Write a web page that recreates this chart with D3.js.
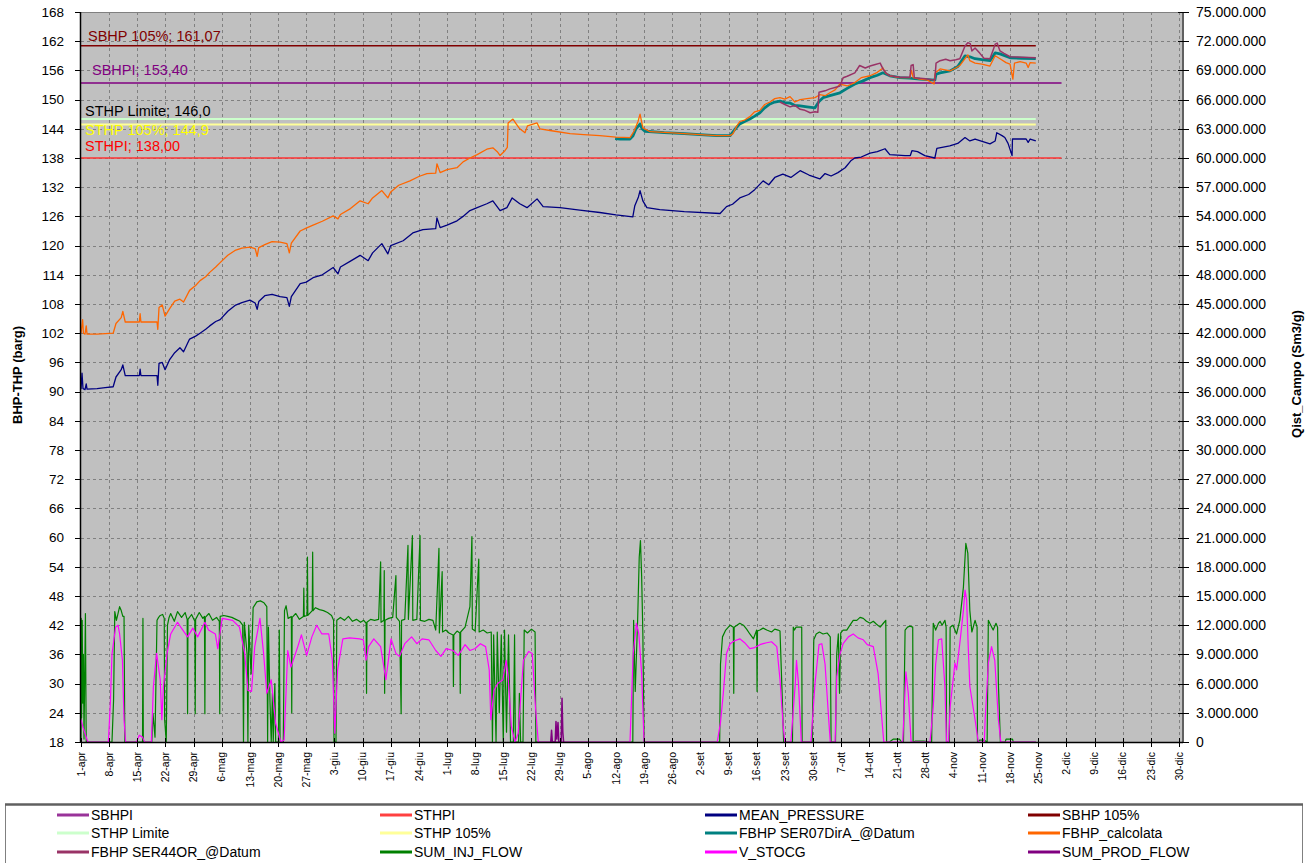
<!DOCTYPE html>
<html lang="it">
<head>
<meta charset="UTF-8">
<title>BHP-THP</title>
<script src="https://cdn.jsdelivr.net/npm/d3@7"></script>
<style>
  body { margin: 0; background: #fff; }
  svg text { font-family: "Liberation Sans", Arial, sans-serif; }
</style>
</head>
<body>
<svg id="svg"></svg>
<script>

var WIDTH = 1308, HEIGHT = 863;
var LEFT = 81, RIGHT = 1183, TOP = 12, BOTTOM = 742;

var START = new Date(2007, 3, 1);
var END = new Date(2007, 11, 31);

// tick labels
var monthNames = ["gen","feb","mar","apr","mag","giu","lug","ago","set","ott","nov","dic"];
var leftTicks = [18,24,30,36,42,48,54,60,66,72,78,84,90,96,102,108,114,120,126,132,138,144,150,156,162,168];
var rightTicksM = [0,3,6,9,12,15,18,21,24,27,30,33,36,39,42,45,48,51,54,57,60,63,66,69,72,75];

// threshold lines (barg) and the day (from 1-apr) where each one stops
var thresholdNames = ["SBHP 105%", "SBHPI", "STHP Limite", "STHP 105%", "STHPI"];
var thresholdValues = [161.07, 153.40, 146.0, 144.9, 138.00];
var thresholdLabels = ["SBHP 105%; 161,07", "SBHPI; 153,40", "STHP Limite; 146,0", "STHP 105%; 144,9", "STHPI; 138,00"];
var thresholdEndDay = [237.4, 243.8, 237.4, 237.4, 243.8];

// series: [day from 1-apr, value]; pressures in barg
var meanPressure = [[0,90.5],[0.25,93.8],[0.5,90.6],[1,90.4],[1.3,91.6],[1.5,90.5],[4,90.6],[6,90.8],[8,91],[8.7,93],[10,94.5],[10.4,95.5],[11,93.3],[14.5,93.3],[14.7,94.6],[14.9,93.3],[18.9,93.3],[19.1,91.3],[19.4,95.8],[20.2,96],[20.9,94.5],[22,96.5],[23.3,98],[24.6,99],[25.5,98.2],[27,100.8],[28.5,101.4],[29.6,102],[31,102.8],[32,103.5],[33.5,104.4],[34.6,104.8],[36.5,106.5],[38.3,107.7],[40,108.3],[42,108.8],[43.3,108.2],[43.8,106.9],[44.2,108.5],[45.7,109.7],[47.5,110],[49.5,109.5],[51.2,109.3],[51.8,107.5],[52.3,109.5],[54.5,112.2],[56,112.5],[57.7,113.4],[60,114],[62.7,115.5],[63.9,114.2],[64.5,115.6],[67,116.8],[69.4,118],[71.4,116.9],[72.5,118.5],[74.8,120.4],[76.3,118.3],[77,120],[80.1,121],[82.5,122.6],[85,123.3],[88.2,123.5],[88.5,125.7],[89.3,123.7],[91,124.2],[93.5,125.1],[95,126],[96.7,127.2],[98.5,127.8],[100.9,128.6],[102.4,129.2],[104.2,127.2],[105.9,127.8],[107.2,129.8],[109.1,128.6],[110.9,127.8],[113.4,129.6],[114.9,128],[117,127.9],[119.1,127.8],[124,127.3],[129,126.8],[133,126.3],[137.2,125.9],[137.7,128.2],[138.6,130],[139,131.3],[139.7,129.2],[140.7,127.8],[143.9,127.4],[150,127],[158.9,126.6],[160.5,128],[162,128.5],[163.8,129.8],[166,130.5],[167.5,131.5],[169.6,133.3],[171,132.5],[172.5,134],[174.5,134.7],[176.5,134],[178.8,135.4],[181,134.5],[183.7,133.7],[185,134.8],[186.5,134.3],[188.2,135],[190,136],[191.5,137.5],[192.4,138],[194,138.2],[196.2,139],[198,139.3],[199.9,139.9],[201.1,138.7],[204.9,138.5],[206.2,138.5],[206.6,139.5],[208,139.3],[209.8,138.5],[212.3,138],[212.8,140],[216,140.5],[218,141],[219.8,142.2],[221,141.5],[222.3,141.9],[226,140.9],[227.3,141.5],[227.7,143.2],[229,142.6],[229.7,142.2],[230.5,141],[231.5,138.5],[231.6,141.9],[235,141.9],[235.5,141.2],[236,141.9],[237.4,141.5]];

var fbhpCalcolata = [[0,102],[0.4,104.8],[0.6,102],[1,101.8],[1.3,103.5],[1.5,101.8],[4,101.8],[8,102],[8.7,104],[10,105.2],[10.4,106.5],[11,104.3],[14.5,104.3],[14.7,106],[14.9,104.3],[18.9,104.3],[19.1,102.8],[19.4,107.3],[20.2,107.8],[20.9,105.5],[22,107],[23.3,108.6],[24.6,109],[25.5,108.4],[27,110.8],[28.5,111.8],[29.6,112.8],[31,113.6],[32,114.5],[33.5,115.6],[34.6,116.5],[36.5,118],[38.3,119],[40,119.5],[42,119.7],[43.3,119.4],[43.8,117.8],[44.2,119.6],[45.7,120.2],[47.5,120.8],[49.5,120.7],[51.2,120.4],[51.8,118.5],[52.3,120.5],[54.5,123],[56,123.6],[57.7,124.2],[60,125],[62.7,126.1],[63.9,125.5],[64.5,126.4],[67,127.6],[69.4,129.2],[71.4,128.6],[72.5,129.8],[74.8,131.3],[76.3,129.8],[77,131],[79,132.4],[81.8,133.3],[84,134.2],[86,134.8],[88.2,134.9],[88.5,136.8],[89.3,135],[91,135.6],[93.5,136],[95,137.2],[96.7,138],[98.5,138.7],[100.9,139.8],[102.4,140.1],[103.5,139.3],[104.2,138.5],[105.4,139.5],[106,140.2],[106.2,145.2],[107.4,146],[108.2,145],[109.1,144],[110.4,143.2],[111,144.6],[113.4,145.2],[114.1,144],[117,143.6],[121.6,143],[125,142.8],[129,142.6],[133,142.3],[136.5,142.2],[137.5,143.5],[138.5,145.5],[139,147],[139.7,144.2],[141.5,143.4],[146,143.2],[150,143],[153.9,142.8],[158,142.6],[161.4,142.6],[162.1,143],[163,144.5],[163.8,145.5],[165,145.8],[166.3,146.5],[167.5,147.5],[168.8,147.8],[170,149],[171.3,149.5],[172.5,150.2],[173.8,150.4],[175,150.1],[176.3,150.6],[177.5,149.5],[178.8,150],[180.5,150.2],[182.5,150.4],[183.7,151],[185,150.8],[186.2,151.4],[187.5,152],[188.7,153.2],[190.5,152.8],[192.4,153.5],[194,154.5],[196.2,154.9],[198,155.6],[199.4,156.5],[200,155.5],[201.1,154.9],[203.6,154.5],[206.1,154.5],[206.5,156],[206.9,154.5],[208.6,154.2],[210.5,154],[212.1,153.2],[212.4,155.5],[213.6,156.3],[216.1,155.9],[217.5,156.5],[218.5,157],[219.8,158.4],[220.5,159.2],[221,158],[222.3,157.5],[224,157.3],[226,156.9],[227.3,159],[228.5,158.4],[230,157.6],[231,157.3],[231.4,155.5],[231.7,154.2],[232.1,157.5],[233.5,157.8],[235,157.5],[235.5,156.6],[236,157.6],[237.4,157.5]];

var fbhpSer07 = [[132.8,142],[134,141.9],[136.5,141.9],[137.2,142.5],[138,144],[139,145],[139.5,144],[140.2,143.5],[145,143.2],[150,143],[153.9,142.8],[158,142.6],[161.4,142.6],[162.5,143.8],[163.8,145],[165,145.5],[166.3,146],[167.5,146.6],[168.8,147.3],[170,148.3],[171.3,149.1],[172.5,149.5],[173.8,149.7],[175,149.4],[176.3,149.3],[177.5,148.8],[178.8,148.7],[180.5,148.5],[182.5,148.3],[183.5,149.6],[184.5,150.4],[186.2,150.8],[188.7,151.4],[190.5,152.3],[192.4,153.2],[194.3,153.8],[196.2,154.5],[198,155],[199.4,155.5],[201.1,154.9],[203.6,154.5],[206,154.4],[208.6,154.2],[210.5,154.1],[212.3,154],[212.6,155.2],[213.6,155.5],[216.1,155.9],[218,156.8],[219.8,159],[221,158.8],[222.3,158.4],[224,158.2],[226,158],[227.3,159.6],[228.5,159.4],[231,158.6],[234,158.5],[237.4,158.4]];

var fbhpSer44 = [[173.8,149.5],[175,149],[176.3,148.5],[177.5,148.8],[178.8,148],[180,147.8],[181.3,147.3],[182.5,147.5],[183.2,147.4],[183.5,151.5],[185,151.8],[186.2,152.2],[187.5,152.5],[188.7,152.8],[189.5,154.5],[190.5,154.8],[192.4,155.5],[193.6,157],[195,156.5],[196.2,156.9],[197.5,157.2],[198.7,157.5],[199.4,156.3],[200.3,155.3],[201.1,154.9],[203.6,154.6],[206.1,154.6],[206.4,157],[206.9,157.2],[207.2,154.5],[210,154.3],[212.3,154],[212.6,157.5],[213.6,158],[215,158.3],[216.1,158],[217.5,158.2],[218.5,158.4],[219.3,160],[219.8,161],[220.5,161.7],[221.1,161.5],[221.5,160],[222.3,160.6],[223.5,159.5],[224.5,158.5],[226,158.4],[226.8,160.2],[227.3,161.4],[227.8,161.6],[228.5,160],[229.5,159.5],[231,158.8],[234,158.7],[237.4,158.6]];

// flows: [day from 1-apr, millions of Sm3/g]
var sumInjFlow = [[0,0],[0.05,12.7],[0.15,2.5],[0.3,12.5],[0.45,4],[0.6,9],[0.75,0.3],[1.1,13.2],[1.3,0],[7.7,0],[8.1,4.3],[8.4,13.4],[8.8,12.5],[9.2,13.2],[9.6,13.9],[10,13.5],[10.4,12.9],[10.7,12.9],[10.9,0],[15.3,0],[15.4,12.7],[15.5,0],[17.6,0],[17.9,2.9],[18.4,0.5],[18.9,12.5],[19.3,12.8],[19.7,13],[20.3,13.1],[20.7,12.7],[20.8,2.3],[21.2,0],[21.5,12],[21.9,12.8],[22.3,13.2],[23.2,12.4],[24,13.4],[25,12.8],[25.9,13.3],[26.4,12.6],[26.5,2.9],[26.6,12.6],[27.5,13.1],[28.3,12.4],[28.4,2.9],[28.5,12.6],[29.4,13.3],[30.3,12.7],[30.7,12.9],[30.8,2.9],[30.9,12.8],[31.8,13.2],[32.7,12.5],[33.7,12.8],[34.4,12.4],[34.5,2.9],[34.6,12.9],[35.5,13],[36.5,12.9],[37.5,12.8],[38.5,12.6],[39.5,12.4],[40.2,12],[40.4,0],[40.6,12.3],[41.3,9],[41.5,0],[41.7,12],[42.3,7],[42.8,13.8],[43.7,14.4],[44.6,14.5],[45.5,14.3],[46.2,13.9],[46.4,0],[46.6,11.8],[47,4],[47.3,0],[47.6,5],[47.8,0],[48.2,6],[48.4,0],[49.1,0],[49.3,11.5],[49.5,0],[50.3,0],[50.6,13.5],[51,14],[51.5,12.7],[52.3,12.9],[52.4,3],[52.5,12.8],[53.4,13.2],[54.3,12.6],[55.3,12.9],[55.4,15.8],[55.5,12.9],[56.2,13],[56.3,19],[56.4,13],[57.5,13.5],[57.6,19.5],[57.7,13.5],[58.3,13.8],[59.3,13.6],[60.3,13.5],[61.3,13.3],[62.3,13],[62.8,12.5],[62.9,0],[63.4,0],[63.6,12.5],[64.5,12.8],[65.5,12.5],[66.5,12.9],[67.5,12.4],[68.5,12.6],[69.5,12.3],[70.3,12.5],[70.9,12.2],[71,5],[71.1,12.3],[72,12.6],[73,12.5],[74,12.6],[74.5,18.5],[74.6,12.3],[75.3,12.5],[75.4,17.6],[75.5,5],[75.6,12.5],[76.5,12.7],[77.5,12.8],[78.3,17.1],[78.4,12.8],[79.2,12.4],[79.6,2.9],[79.7,12.5],[80.5,12.6],[81.3,20.2],[81.4,12.6],[82.4,21.2],[82.5,12.5],[83.5,12.6],[84.3,21.2],[84.4,12.5],[85.5,12.4],[86.5,12.6],[87.5,12.5],[88.2,11.5],[89,19.9],[89.1,11.2],[89.8,17.5],[89.9,11.3],[90.7,11.5],[91.5,11.2],[92.5,11],[92.6,5.7],[92.7,11],[93.5,11.4],[94.2,11.2],[94.3,5],[94.4,11.3],[95.5,11.8],[96.7,13.9],[97.2,21.1],[97.3,11.6],[98,11.4],[98.9,18.8],[99,11.3],[100,11.5],[101,11.2],[102,11.3],[102.3,0],[102.6,11],[103.2,0],[103.5,11.3],[104,3],[104.5,11],[105,0],[105.3,11.5],[105.8,1],[106.3,11],[106.8,0],[107.5,0],[107.8,11],[108,0],[108.8,0],[109,5],[109.3,0],[109.9,0],[110.2,11.5],[111,11.2],[112,11.6],[112.9,11.3],[113.1,0],[137.2,0],[137.4,12.5],[137.8,5.2],[138.4,12.5],[138.8,19],[139.1,20.7],[139.4,17],[139.7,11.1],[140,0],[158.8,0],[159,8],[159.5,10.8],[160.3,11.5],[161.4,12],[162.2,11.8],[162.3,5],[162.4,11.8],[163.8,12.2],[164.7,12],[165.5,11.6],[166.3,11.1],[167.2,10.6],[168,11.5],[168.1,5.2],[168.2,11.4],[168.8,11.5],[169.6,11.7],[170.5,11.5],[171.7,11.3],[172.5,11.6],[173.3,11.5],[173.8,11.4],[174.3,5.3],[174.7,0],[176.9,0],[177.1,11.8],[177.4,11.5],[177.8,11.8],[179.2,11.8],[179.3,0],[181.8,0],[182.2,10.5],[182.8,11.1],[183.6,11.3],[184.5,11.1],[185.5,11.2],[186.3,10.8],[186.5,0],[187.6,0],[187.9,9],[188.3,11.1],[188.6,5],[188.9,11.2],[189.5,11.5],[190.4,11.5],[191.2,12],[192,12.5],[192.9,12.5],[193.7,12.8],[194.5,12.7],[195.3,12.4],[196.2,12.2],[197,12.4],[197.8,12.1],[198.7,11.8],[199.5,12.2],[200.1,12.5],[200.3,0],[201,0],[202,0.3],[203.5,0.3],[204,0],[204.5,0],[204.9,11.5],[205.5,11.8],[206.1,11.9],[206.8,11.8],[206.9,0],[207.5,0.1],[209.5,0.1],[211.5,0],[211.9,12.2],[212.5,11.5],[213.2,12.2],[213.6,12.4],[214.1,12],[214.8,12.5],[215.1,11.8],[215.2,0],[215.9,0],[216.1,11.8],[216.8,12],[217.7,11.1],[218.5,12.5],[219.4,15.9],[220,20.4],[220.5,19.4],[221,13.5],[221.5,11.3],[222.3,12.5],[222.8,11.8],[222.9,0],[223.5,0.2],[224.5,0.2],[225.3,0],[225.6,12.5],[226.2,12],[226.8,11.5],[227.5,12.2],[227.9,11.8],[228.1,6],[228.6,0],[229.8,0],[230,0.3],[231.6,0.3],[231.8,0],[237.4,0]];

var vStocg = [[0,2.3],[0.5,1.5],[1.7,0],[6.8,0],[7.3,4],[7.7,9],[8.6,11.8],[9.2,12],[9.6,11.1],[10.3,8.4],[10.7,2.3],[11.1,0],[13.8,0],[14.5,0.7],[15.3,0.5],[15.8,0],[17.5,0],[18,5.7],[18.8,9.1],[19.7,6.4],[20.1,2.3],[20.5,5.7],[21.4,9.1],[22.3,11.1],[24,12.3],[24.8,11.8],[26.5,10.8],[27.8,11.7],[29,10.8],[30.8,12.3],[31.7,11.5],[33.4,11.1],[34,9.6],[35.1,12.7],[37.7,12.5],[39.4,11.8],[40.7,9.1],[41.5,5.3],[42.4,5.2],[43.2,9.8],[44.5,12.7],[45.4,9.1],[46.2,5],[47.3,6.4],[48.4,1.9],[49.7,0],[50.5,0.2],[51.4,9.4],[52.2,7.7],[53.9,9.8],[54.8,11],[56.1,8.9],[57.4,10.8],[58.6,12],[59.9,11.1],[61.6,11.1],[62.5,8.4],[63.1,0.9],[63.8,7.4],[65.1,10.6],[66.8,10.7],[69.3,10.6],[70.2,10.5],[70.9,8.4],[71.5,9.8],[72.8,10.6],[74.5,9.8],[75.8,6.4],[77.1,10.6],[78.3,9.1],[79.2,8.8],[80.5,10.1],[82.2,10.8],[83.5,10.1],[84.8,10.6],[86.5,10.5],[88.2,9.4],[89.5,8.8],[90.8,9.6],[92.5,9.4],[93.8,8.9],[95.5,10],[96.7,9.4],[98,9.6],[99.3,10.1],[100.6,9.8],[101.5,7.4],[101.9,2.3],[102.7,5.3],[103.6,6],[104.9,6.4],[105.7,8.4],[106.2,6.7],[107,1.6],[107.9,0],[108.7,0.9],[110,8.4],[111.3,9.3],[112.2,9.1],[113,3.6],[113.7,0],[136.5,0],[137.3,9.1],[138.1,12.2],[138.7,11.1],[139.4,7],[140,0],[158.2,0],[159,2],[159.7,5],[160.5,9.1],[161.4,10.1],[162.5,10.4],[163.8,10.6],[165,10.2],[166.3,9.6],[167.5,9.7],[168.8,10],[169.6,10.1],[170.5,10.2],[171.7,10.3],[173,9.8],[173.8,6.4],[174.6,1.6],[175,0],[176.5,0],[177.6,6],[177.9,8.4],[178.4,6],[179.1,0],[181.5,0],[182.5,6],[183.5,10],[184.2,10.1],[185,8],[185.8,3],[186.3,0],[187.5,0],[187.9,6.7],[188.7,9],[189.5,10.1],[190.8,10.8],[192,11.1],[193.2,10.7],[194.5,10.5],[195.5,10],[197,9.8],[198.2,7],[199,3],[199.6,0],[204.3,0],[205.1,7.2],[205.7,5],[206.4,0],[211.1,0],[211.9,3.6],[212.5,8],[213.2,10.5],[214,10.6],[214.8,5.7],[215.2,0],[215.7,0],[216.1,3.6],[217.3,8.1],[217.7,7.4],[218.5,10.1],[219.4,13.5],[219.8,15.6],[220.2,14.6],[220.6,9.8],[221,5.7],[222.3,2.3],[223.1,0],[224.6,0],[224.8,2.3],[225.6,8.1],[226.4,9.8],[227.2,8.4],[228.1,2.3],[228.7,0],[237.4,0]];

var sumProdFlow = [[116.8,0],[117,1.2],[117.2,0],[117.9,0],[118.1,2.1],[118.3,0.3],[118.6,2],[118.8,0],[119.4,0],[119.6,4.5],[119.8,1],[120,0]];

// legend (row by row, 4 columns)
var legendNames = ["SBHPI","STHPI","MEAN_PRESSURE","SBHP 105%","STHP Limite","STHP 105%","FBHP SER07DirA_@Datum","FBHP_calcolata","FBHP SER44OR_@Datum","SUM_INJ_FLOW","V_STOCG","SUM_PROD_FLOW"];
var legendColors = ["#993399","#ff4040","#000080","#800000","#ccffcc","#ffff99","#008080","#ff6600","#993366","#008000","#ff00ff","#800080"];

var COL = {
    "SBHPI": "#800080", "STHPI": "#ff3333", "MEAN_PRESSURE": "#000080", "SBHP 105%": "#800000",
    "STHP Limite": "#ccffcc", "STHP 105%": "#ffff99", "FBHP SER07DirA_@Datum": "#008080",
    "FBHP_calcolata": "#ff6600", "FBHP SER44OR_@Datum": "#993366", "SUM_INJ_FLOW": "#008000",
    "V_STOCG": "#ff00ff", "SUM_PROD_FLOW": "#800080"
};

var svg = d3.select("#svg").attr("width", WIDTH).attr("height", HEIGHT);
svg.append("rect").attr("width", WIDTH).attr("height", HEIGHT).attr("fill", "#fff");

var xScale = d3.scaleTime().domain([START, END]).range([LEFT, RIGHT]);
var yLeft = d3.scaleLinear().domain([18, 168]).range([BOTTOM, TOP]);
var yRight = d3.scaleLinear().domain([0, 75e6]).range([BOTTOM, TOP]);

var dayToDate = function(d){ return new Date(+START + d * 864e5); };

var itLocale = d3.formatLocale({decimal: ",", thousands: ".", grouping: [3], currency: ["", "€"]});
var fmtRight = itLocale.format(",d");
var fmtDate = function(d){ return d.getDate() + "-" + monthNames[d.getMonth()]; };

var tickDates = d3.timeDay.range(START, END, 7);

// plot background
svg.append("rect")
    .attr("x", LEFT).attr("y", TOP)
    .attr("width", RIGHT - LEFT).attr("height", BOTTOM - TOP)
    .attr("fill", "#c0c0c0");

// grid
var grid = svg.append("g").attr("stroke", "#808080").attr("stroke-dasharray", "3,3").attr("stroke-width", 1);
grid.selectAll("line.v").data(tickDates.slice(1)).enter().append("line")
    .attr("x1", function(d){ return Math.round(xScale(d)) + 0.5; })
    .attr("x2", function(d){ return Math.round(xScale(d)) + 0.5; })
    .attr("y1", TOP).attr("y2", BOTTOM);
grid.selectAll("line.h").data(leftTicks.slice(1, -1)).enter().append("line")
    .attr("x1", LEFT).attr("x2", RIGHT)
    .attr("y1", function(d){ return Math.round(yLeft(d)) + 0.5; })
    .attr("y2", function(d){ return Math.round(yLeft(d)) + 0.5; });

// series
var plot = svg.append("g");
svg.append("clipPath").attr("id", "clip").append("rect")
    .attr("x", LEFT).attr("y", TOP - 2).attr("width", RIGHT - LEFT).attr("height", BOTTOM - TOP + 2);
plot.attr("clip-path", "url(#clip)");

var lineLeft = d3.line()
    .x(function(d){ return xScale(dayToDate(d[0])); })
    .y(function(d){ return yLeft(d[1]); });
var lineRight = d3.line()
    .x(function(d){ return xScale(dayToDate(d[0])); })
    .y(function(d){ return yRight(d[1] * 1e6); });

// threshold lines
thresholdNames.forEach(function(n, i){
    var pts = [[0, thresholdValues[i]], [thresholdEndDay[i], thresholdValues[i]]];
    plot.append("path").attr("d", lineLeft(pts))
        .attr("fill", "none").attr("stroke", COL[n])
        .attr("stroke-width", (n === "STHP Limite" || n === "STHP 105%") ? 2 : 1.5);
});

var addSeries = function(data, line, color, w){
    plot.append("path").datum(data).attr("d", line)
        .attr("fill", "none").attr("stroke", color)
        .attr("stroke-width", w).attr("stroke-linejoin", "round");
};

addSeries(meanPressure, lineLeft, COL["MEAN_PRESSURE"], 1.3);
addSeries(fbhpSer07, lineLeft, COL["FBHP SER07DirA_@Datum"], 2.8);
addSeries(fbhpCalcolata, lineLeft, COL["FBHP_calcolata"], 1.3);
addSeries(fbhpSer44, lineLeft, COL["FBHP SER44OR_@Datum"], 1.5);
addSeries(sumInjFlow, lineRight, COL["SUM_INJ_FLOW"], 1.2);
addSeries(vStocg, lineRight, COL["V_STOCG"], 1.2);
addSeries(sumProdFlow, lineRight, COL["SUM_PROD_FLOW"], 1.5);

// threshold labels
var labelColors = ["#800000", "#800080", "#000000", "#ffff00", "#ff0000"];
var labelX = [88, 92, 85, 85, 85];
var labelY = [41, 75, 116, 135, 151];
thresholdLabels.forEach(function(t, i){
    svg.append("text").text(t)
        .attr("x", labelX[i]).attr("y", labelY[i])
        .attr("fill", labelColors[i]).attr("font-size", "14.5px");
});

// frame
svg.append("line").attr("x1", LEFT).attr("x2", RIGHT).attr("y1", TOP + 0.5).attr("y2", TOP + 0.5)
    .attr("stroke", "#808080").attr("stroke-width", 1);
svg.append("line").attr("x1", RIGHT).attr("x2", RIGHT).attr("y1", TOP).attr("y2", BOTTOM)
    .attr("stroke", "#606060").attr("stroke-width", 2);

// left axis
var gl = svg.append("g");
gl.append("line").attr("x1", LEFT - 0.5).attr("x2", LEFT - 0.5).attr("y1", TOP).attr("y2", BOTTOM)
    .attr("stroke", "#000").attr("stroke-width", 1.5);
gl.selectAll("line.t").data(leftTicks).enter().append("line")
    .attr("x1", LEFT - 6).attr("x2", LEFT)
    .attr("y1", function(d){ return Math.round(yLeft(d)) + 0.5; })
    .attr("y2", function(d){ return Math.round(yLeft(d)) + 0.5; })
    .attr("stroke", "#000");
gl.selectAll("text").data(leftTicks).enter().append("text")
    .attr("x", LEFT - 17).attr("y", function(d){ return yLeft(d); })
    .attr("dy", "0.36em").attr("text-anchor", "end")
    .attr("font-size", "13.5px").attr("fill", "#000")
    .text(function(d){ return d; });

// right axis
var gr = svg.append("g");
gr.selectAll("line.t").data(rightTicksM).enter().append("line")
    .attr("x1", RIGHT - 5).attr("x2", RIGHT + 6)
    .attr("y1", function(d){ return Math.round(yRight(d * 1e6)) + 0.5; })
    .attr("y2", function(d){ return Math.round(yRight(d * 1e6)) + 0.5; })
    .attr("stroke", "#000");
gr.selectAll("text").data(rightTicksM).enter().append("text")
    .attr("x", RIGHT + 13).attr("y", function(d){ return yRight(d * 1e6); })
    .attr("dy", "0.36em").attr("text-anchor", "start")
    .attr("font-size", "14px").attr("fill", "#000")
    .text(function(d){ return fmtRight(d * 1e6); });

// bottom axis
var gb = svg.append("g");
gb.append("line").attr("x1", LEFT).attr("x2", RIGHT).attr("y1", BOTTOM + 0.5).attr("y2", BOTTOM + 0.5)
    .attr("stroke", "#000").attr("stroke-width", 1.5);
gb.selectAll("line.t").data(tickDates).enter().append("line")
    .attr("x1", function(d){ return Math.round(xScale(d)) + 0.5; })
    .attr("x2", function(d){ return Math.round(xScale(d)) + 0.5; })
    .attr("y1", BOTTOM - 4).attr("y2", BOTTOM + 5)
    .attr("stroke", "#000");
gb.selectAll("text").data(tickDates).enter().append("text")
    .attr("transform", function(d){ return "translate(" + xScale(d) + "," + (BOTTOM + 10) + ") rotate(-90)"; })
    .attr("dy", "0.35em").attr("text-anchor", "end")
    .attr("font-size", "10.5px").attr("fill", "#000")
    .text(fmtDate);

// axis titles
svg.append("text").attr("transform", "translate(22,375) rotate(-90)")
    .attr("text-anchor", "middle").attr("font-weight", "bold").attr("font-size", "13px")
    .text("BHP-THP (barg)");
svg.append("text").attr("transform", "translate(1301,374) rotate(-90)")
    .attr("text-anchor", "middle").attr("font-weight", "bold").attr("font-size", "13px")
    .text("Qist_Campo (Sm3/g)");

// legend
var lg = svg.append("g");
lg.append("rect").attr("x", 5.5).attr("y", 804.5).attr("width", 1297).attr("height", 70)
    .attr("fill", "#fff").attr("stroke", "#808080").attr("stroke-width", 1);
lg.append("line").attr("x1", 5).attr("x2", 1303).attr("y1", 804.5).attr("y2", 804.5)
    .attr("stroke", "#606060").attr("stroke-width", 2.5);
var colX = [57, 380, 705, 1028];
var rowY = [815, 833, 852];
legendNames.forEach(function(n, i){
    var cx = colX[i % 4], cy = rowY[Math.floor(i / 4)];
    lg.append("line").attr("x1", cx).attr("x2", cx + 32).attr("y1", cy).attr("y2", cy)
        .attr("stroke", legendColors[i]).attr("stroke-width", 3);
    lg.append("text").attr("x", cx + 34).attr("y", cy).attr("dy", "0.35em")
        .attr("font-size", "14px").attr("fill", "#000").text(n);
});

</script>
</body>
</html>
